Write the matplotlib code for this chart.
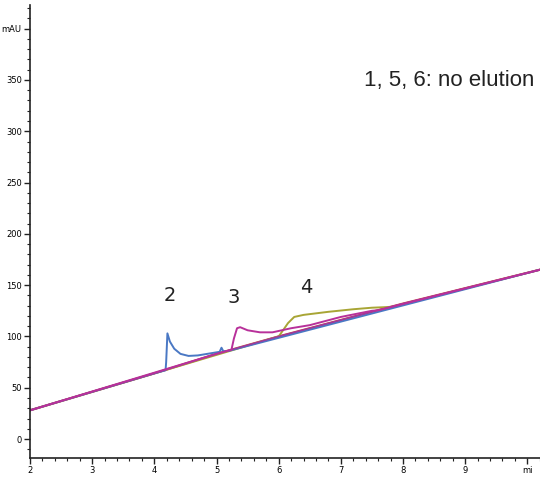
#!/usr/bin/env python3
import numpy as np
import matplotlib.pyplot as plt

# baseline (gradient drift), min -> mAU
base_t = [2.0, 3.0, 4.0, 5.0, 6.0, 7.0, 8.0, 9.0, 10.2]
base_y = [28, 46, 64, 83, 100, 116, 132, 147, 165]

# sample 2 (blue)
s2_t = [2.0, 4.0, 4.18, 4.19, 4.21, 4.25, 4.32, 4.42, 4.55, 4.7, 4.85, 5.0, 5.05, 5.08, 5.11, 5.2, 10.2]
s2_y = [28, 64, 67, 75, 103, 95, 88, 83, 81, 81.5, 83, 84.5, 85, 89, 85.5, 86, 165]

# sample 3 (magenta)
s3_t = [2.0, 5.0, 5.24, 5.28, 5.33, 5.38, 5.5, 5.7, 5.9, 6.05, 6.2, 6.5, 7.0, 7.5, 7.6, 10.2]
s3_y = [28, 83, 87, 98, 108, 109, 106, 104, 104, 106, 108, 111, 119, 125, 125.5, 165]

# sample 4 (olive)
s4_t = [2.0, 6.0, 6.07, 6.15, 6.25, 6.4, 6.8, 7.2, 7.5, 7.7, 7.85, 10.2]
s4_y = [28, 100, 106, 113, 119, 121, 124, 126.5, 128, 128.5, 129, 165]

peak_labels = ["2", "3", "4"]
label_t = [4.25, 5.28, 6.45]
label_y = [140, 138, 148]

fig = plt.figure(figsize=(5.4, 4.86), dpi=100)
ax = fig.add_axes([0.0556, 0.0576, 0.944, 0.932])

# other traces sit on the baseline
ax.plot(base_t, base_y, color="#d0403a", lw=1.6)
ax.plot(s4_t, s4_y, color="#a8a535", lw=1.4)
ax.plot(s2_t, s2_y, color="#4a78c4", lw=1.4)
ax.plot(base_t, base_y, color="#9a3aa0", lw=1.1)
ax.plot(s3_t, s3_y, color="#b8309a", lw=1.4)

for lab, t, y in zip(peak_labels, label_t, label_y):
    ax.text(t, y, lab, ha="center", va="center", fontsize=14,
            family=["Liberation Sans Narrow", "DejaVu Sans"], color="#222222")

ax.text(0.99, 0.834, "1, 5, 6: no elution", transform=ax.transAxes,
        ha="right", va="center", fontsize=16, family=["Liberation Sans", "DejaVu Sans"],
        color="#222222")

ax.set_xlim(2, 10.2)
ax.set_ylim(-18.5, 423)

ax.set_xticks(range(2, 11))
ax.set_xticklabels([str(i) for i in range(2, 10)] + ["mi"])
ax.set_xticks(np.arange(2, 10.21, 0.2), minor=True)
ax.set_yticks(range(0, 401, 50))
ax.set_yticklabels([str(i) for i in range(0, 400, 50)] + ["mAU"])
ax.set_yticks(range(-10, 421, 10), minor=True)

for lbl in ax.get_xticklabels() + ax.get_yticklabels():
    lbl.set_family(["Liberation Sans Narrow", "DejaVu Sans"])
    lbl.set_fontsize(6)
ax.tick_params(which="major", length=4, width=1, pad=2, color="#222222")
ax.tick_params(which="minor", length=2, width=0.8, color="#222222")

for s in ["top", "right"]:
    ax.spines[s].set_visible(False)
for s in ["left", "bottom"]:
    ax.spines[s].set_linewidth(1.2)
    ax.spines[s].set_color("#222222")

fig.savefig("out.png", dpi=100)
